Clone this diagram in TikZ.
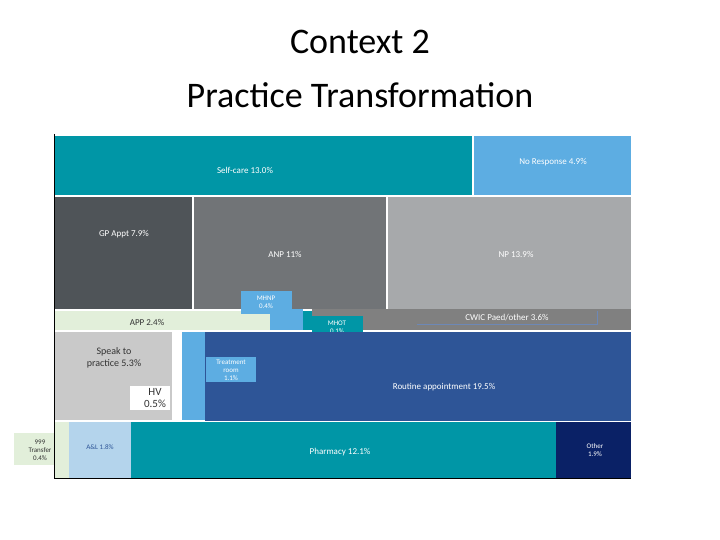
\documentclass[tikz,border=0pt]{standalone}
\usepackage{fontspec}
\setmainfont{Carlito}
\begin{document}
\begin{tikzpicture}[x=1pt,y=-1pt,
  blk/.style={inner sep=0,outer sep=0},
  lbl/.style={font=\fontsize{9}{10}\selectfont,align=center,text=white},
  dlbl/.style={font=\fontsize{9}{10}\selectfont,align=center,text=black!80}]
\definecolor{teal1}{HTML}{0096A6}
\definecolor{lblue}{HTML}{5DADE2}
\definecolor{dgray}{HTML}{4F5458}
\definecolor{mgray}{HTML}{717477}
\definecolor{lgray}{HTML}{A7A9AB}
\definecolor{pgreen}{HTML}{E2EFDA}
\definecolor{sgray}{HTML}{C9C9C9}
\definecolor{rblue}{HTML}{2E5597}
\definecolor{albl}{HTML}{B4D4EC}
\definecolor{navy}{HTML}{0A2166}
\useasboundingbox (0,0) rectangle (720,540);
\node[font=\fontsize{36}{40}\selectfont] (t1) at (360,42) {Context 2};
\node[font=\fontsize{36}{40}\selectfont] (t2) at (360,95) {Practice Transformation};
% top row
\fill[teal1] (54,136) rectangle (472,195); \node[lbl] (sc) at (245,170) {Self-care 13.0\%};
\fill[lblue] (474,136) rectangle (631,195); \node[lbl] (nr) at (553,162) {No Response 4.9\%};
\fill[dgray] (54,197) rectangle (192,309); \node[lbl] (gp) at (124,234) {GP Appt 7.9\%};
\fill[mgray] (194,197) rectangle (386,309); \node[lbl] (anp) at (285,254) {ANP 11\%};
\fill[lgray] (388,197) rectangle (631,309); \node[lbl] (np) at (516,254) {NP 13.9\%};
% middle strip
\fill[pgreen] (54,311) rectangle (270,330); \node[dlbl] (app) at (147,322) {APP 2.4\%};
\fill[lblue] (270,309) rectangle (303,330);
\fill[teal1] (303,311) rectangle (312,330);
\fill[gray] (312,309) rectangle (631,330);
\draw[rblue!70,line width=0.8pt] (417,324) -- (597,324) -- (597,311);
\node[lbl] (cw) at (507,318) {CWIC Paed/other 3.6\%};
\fill[lblue] (241,291) rectangle (292,314); \node[lbl,font=\fontsize{7}{8}\selectfont] (mh) at (266,302) {MHNP\\0.4\%};
\fill[teal1] (312,316) rectangle (363,338); \node[lbl,font=\fontsize{7}{8}\selectfont] (mo) at (337,327) {MHOT\\0.1\%};
% third row
\fill[sgray] (54,332) rectangle (172,420); \node[dlbl,font=\fontsize{10}{12}\selectfont] (sp) at (114,358) {Speak to\\practice 5.3\%};
\fill[white] (130,386) rectangle (170,410); \node[dlbl,font=\fontsize{11}{12}\selectfont] (hv) at (155,398) {HV\\0.5\%};
\fill[lblue] (182,332) rectangle (205,420);
\fill[rblue] (205,332) rectangle (631,421); \node[lbl] (ra) at (444,387) {Routine appointment 19.5\%};
\fill[lblue] (206,357) rectangle (256,382); \node[lbl,font=\fontsize{7}{8}\selectfont] (tr) at (231,370) {Treatment\\room\\1.1\%};
% bottom row
\fill[pgreen] (54,422) rectangle (69,478);
\fill[albl] (69,422) rectangle (131,478); \node[dlbl,font=\fontsize{7}{8}\selectfont,text=rblue] (al) at (100,447) {A\&L 1.8\%};
\fill[teal1] (131,422) rectangle (556,478); \node[lbl] (ph) at (340,452) {Pharmacy 12.1\%};
\fill[navy] (556,422) rectangle (631,478); \node[lbl,font=\fontsize{7}{8}\selectfont] (ot) at (595,450) {Other\\1.9\%};
\fill[pgreen] (14,433) rectangle (69,465); \node[dlbl,font=\fontsize{7}{8}\selectfont] (tf) at (40,450) {999\\Transfer\\0.4\%};
% frame
\draw[black,line width=1pt] (54,134) -- (54,478) -- (631,478);
\end{tikzpicture}
\end{document}
